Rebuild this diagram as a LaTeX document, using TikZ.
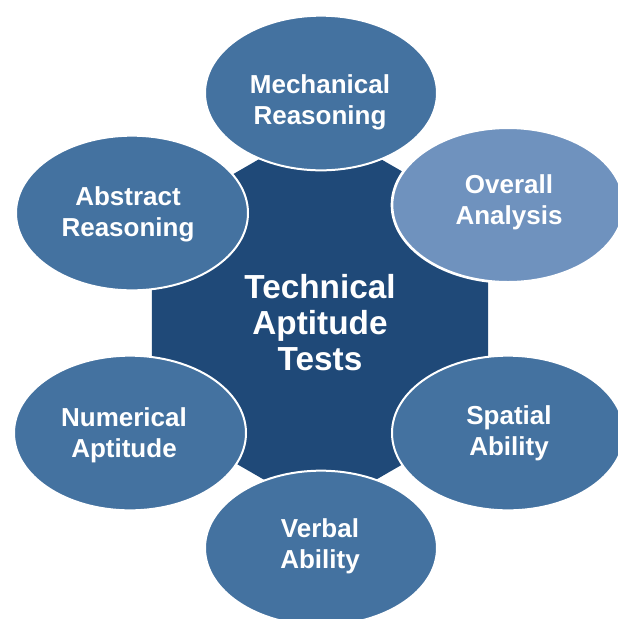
\documentclass[tikz,border=0pt]{standalone}
\usepackage{fontspec}
\setmainfont{Liberation Sans}
\usetikzlibrary{shapes.geometric}
\definecolor{hexblue}{RGB}{31,73,120}
\definecolor{ovalblue}{RGB}{68,114,160}
\definecolor{paleblue}{RGB}{111,146,190}
\tikzset{
  test/.style={ellipse, fill=ovalblue, draw=white, line width=1.5pt,
    minimum width=174pt, minimum height=116pt, inner sep=0pt,
    text=white, align=center, font=\bfseries\fontsize{19.5}{23}\selectfont},
  core/.style={text=white, align=center, font=\bfseries\fontsize{25}{27}\selectfont},
}
\begin{document}
\begin{tikzpicture}[x=0.75pt,y=-0.75pt]
  \useasboundingbox (0,0) rectangle (618,619);

  % central hexagon
  \fill[hexblue, shift={(320,318)}] (90:194)
    \foreach \a in {150,210,...,390} { -- (\a:194) } -- cycle;
  \node [core](tat) at (320,323) {Technical\\Aptitude\\Tests};

  % surrounding tests
  \node [test](mech) at (321,93) {};
  \node [test](abst) at (132,213) {};
  \node [test, fill=paleblue, line width=2pt](over) at (508,205) {};
  \node [test](nume) at (130,433) {};
  \node [test](spat) at (508,433) {};
  \node [test](verb) at (321,548) {};

  \node [test, draw=none, fill=none](mecht) at (320,102) {Mechanical\\Reasoning};
  \node [test, draw=none, fill=none](abstt) at (128,214) {Abstract\\Reasoning};
  \node [test, draw=none, fill=none](overt) at (509,202) {Overall\\Analysis};
  \node [test, draw=none, fill=none](numet) at (124,435) {Numerical\\Aptitude};
  \node [test, draw=none, fill=none](spatt) at (509,433) {Spatial\\Ability};
  \node [test, draw=none, fill=none](verbt) at (320,546) {Verbal\\Ability};
\end{tikzpicture}
\end{document}
